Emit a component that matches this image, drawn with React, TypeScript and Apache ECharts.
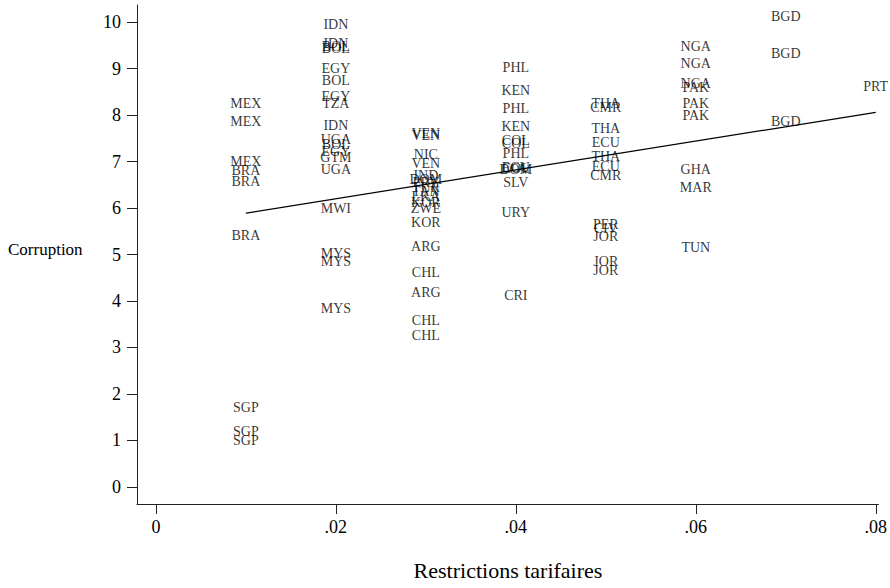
import React, { useEffect, useRef } from "react";
import * as echarts from "echarts";

// Country labels grouped by tariff-restriction level (x) with corruption score (y)
const countries: string[] = [
  "MEX", "MEX", "MEX", "BRA", "BRA", "BRA", "SGP", "SGP", "SGP",
  "IDN", "IDN", "BOL", "BOL", "EGY", "BOL", "EGY", "TZA", "IDN", "UGA", "BOL", "EGY", "GTM", "UGA", "MWI", "MYS", "MYS", "MYS",
  "VEN", "VEN", "NIC", "VEN", "IND", "DOM", "PRY", "TUR", "TAN", "LKA", "KOR", "ZWE", "KOR", "ARG", "CHL", "ARG", "CHL", "CHL",
  "PHL", "KEN", "PHL", "KEN", "COL", "COL", "PHL", "ECU", "COL", "DOM", "SLV", "URY", "CRI",
  "THA", "CMR", "THA", "ECU", "THA", "ECU", "CMR", "PER", "CIV", "JOR", "JOR", "JOR",
  "NGA", "NGA", "NGA", "PAK", "PAK", "PAK", "GHA", "MAR", "TUN",
  "BGD", "BGD", "BGD",
  "PRT",
];

const tariffs: number[] = [
  0.01, 0.01, 0.01, 0.01, 0.01, 0.01, 0.01, 0.01, 0.01,
  0.02, 0.02, 0.02, 0.02, 0.02, 0.02, 0.02, 0.02, 0.02, 0.02, 0.02, 0.02, 0.02, 0.02, 0.02, 0.02, 0.02, 0.02,
  0.03, 0.03, 0.03, 0.03, 0.03, 0.03, 0.03, 0.03, 0.03, 0.03, 0.03, 0.03, 0.03, 0.03, 0.03, 0.03, 0.03, 0.03,
  0.04, 0.04, 0.04, 0.04, 0.04, 0.04, 0.04, 0.04, 0.04, 0.04, 0.04, 0.04, 0.04,
  0.05, 0.05, 0.05, 0.05, 0.05, 0.05, 0.05, 0.05, 0.05, 0.05, 0.05, 0.05,
  0.06, 0.06, 0.06, 0.06, 0.06, 0.06, 0.06, 0.06, 0.06,
  0.07, 0.07, 0.07,
  0.08,
];

const corruption: number[] = [
  8.24, 7.87, 7.01, 6.8, 6.58, 5.4, 1.7, 1.2, 0.99,
  9.94, 9.55, 9.47, 9.44, 9.01, 8.75, 8.39, 8.24, 7.78, 7.48, 7.36, 7.22, 7.08, 6.84, 6.0, 5.03, 4.86, 3.83,
  7.61, 7.56, 7.16, 6.95, 6.7, 6.62, 6.55, 6.45, 6.35, 6.25, 6.12, 5.98, 5.68, 5.18, 4.62, 4.19, 3.59, 3.25,
  9.03, 8.52, 8.15, 7.76, 7.46, 7.38, 7.18, 6.87, 6.85, 6.83, 6.56, 5.91, 4.11,
  8.26, 8.17, 7.72, 7.4, 7.1, 6.9, 6.69, 5.64, 5.56, 5.38, 4.84, 4.65,
  9.48, 9.12, 8.67, 8.6, 8.24, 8.0, 6.84, 6.45, 5.16,
  10.13, 9.33, 7.87,
  8.62,
];

// Fitted regression line endpoints
const fitX: number[] = [0.01, 0.08];
const fitY: number[] = [5.89, 8.06];

const xTicks: number[] = [0, 0.02, 0.04, 0.06, 0.08];
const yTicks: number[] = [0, 1, 2, 3, 4, 5, 6, 7, 8, 9, 10];

const FONT = "Liberation Serif, Times New Roman, DejaVu Serif, serif";

export default function App() {
  const ref = useRef<HTMLDivElement>(null);

  useEffect(() => {
    if (!ref.current) return;
    const chart = echarts.init(ref.current, undefined, { renderer: "svg" });

    const points = countries.map((c, i) => ({ name: c, value: [tariffs[i], corruption[i]] }));
    const line = fitX.map((x, i) => [x, fitY[i]]);

    chart.setOption({
      animation: false,
      backgroundColor: "#ffffff",
      textStyle: { fontFamily: FONT },
      grid: { left: 137, right: 5, top: 5, bottom: 84, containLabel: false },
      xAxis: {
        type: "value",
        min: -0.0021,
        max: 0.0803,
        splitLine: { show: false },
        axisLine: { show: true, onZero: false, lineStyle: { color: "#222", width: 1 } },
        axisTick: { show: true, inside: false, length: 10, customValues: xTicks, lineStyle: { color: "#222" } },
        axisLabel: {
          show: true,
          customValues: xTicks,
          margin: 14,
          color: "#000",
          fontFamily: FONT,
          fontSize: 18,
          formatter: (v: number) => (v === 0 ? "0" : v.toFixed(2).replace(/^0/, "")),
        },
      },
      yAxis: {
        type: "value",
        min: -0.37,
        max: 10.37,
        splitLine: { show: false },
        axisLine: { show: true, onZero: false, lineStyle: { color: "#222", width: 1 } },
        axisTick: { show: true, inside: false, length: 10, customValues: yTicks, lineStyle: { color: "#222" } },
        axisLabel: {
          show: true,
          customValues: yTicks,
          margin: 16,
          color: "#000",
          fontFamily: FONT,
          fontSize: 18,
          formatter: (v: number) => String(Math.round(v)),
        },
      },
      graphic: [
        {
          type: "text",
          left: 8,
          top: 241,
          style: { text: "Corruption", fontFamily: FONT, fontSize: 17, fill: "#000" },
        },
        {
          type: "text",
          x: 508,
          y: 570,
          style: {
            text: "Restrictions tarifaires",
            fontFamily: FONT,
            fontSize: 22,
            fill: "#000",
            align: "center",
            verticalAlign: "middle",
          },
        },
      ],
      series: [
        {
          type: "line",
          data: line,
          symbol: "none",
          lineStyle: { color: "#000", width: 1.2 },
          z: 1,
        },
        {
          type: "scatter",
          data: points,
          symbolSize: 0,
          clip: false,
          label: {
            show: true,
            position: "inside",
            formatter: (p: any) => p.name,
            color: "#000",
            fontFamily: FONT,
            fontSize: 14,
          },
          labelLayout: { hideOverlap: false },
          z: 2,
        },
      ],
    });

    return () => chart.dispose();
  }, []);

  return (
    <div
      ref={ref}
      style={{ position: "fixed", left: 0, top: 0, width: 890, height: 588, background: "#fff" }}
    />
  );
}
